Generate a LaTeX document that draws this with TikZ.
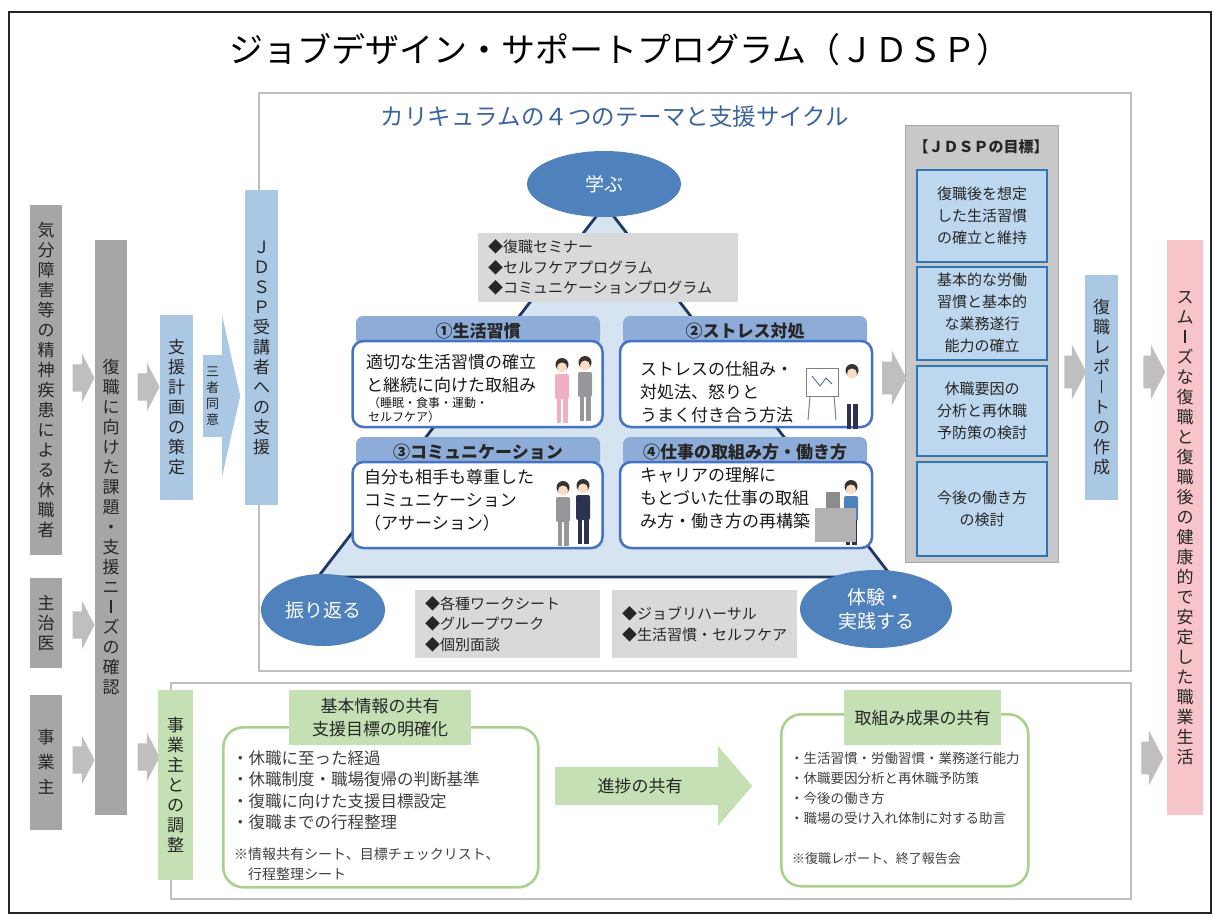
\documentclass[tikz,border=0pt]{standalone}
\usepackage{fontspec}
\usepackage{graphicx}
\setmainfont{Noto Sans CJK JP}
\usetikzlibrary{positioning,calc,shapes.geometric,shapes.arrows}
\definecolor{jgray}{RGB}{166,166,166}
\definecolor{jgarrow}{RGB}{191,191,191}
\definecolor{jblue}{RGB}{170,199,228}
\definecolor{jpink}{RGB}{247,196,202}
\definecolor{jcyc}{RGB}{79,129,189}
\definecolor{jhead}{RGB}{141,172,216}
\definecolor{jrim}{RGB}{68,114,196}
\definecolor{jtri}{RGB}{214,227,240}
\definecolor{jnavy}{RGB}{31,56,100}
\definecolor{jlist}{RGB}{217,217,217}
\definecolor{jgoalbg}{RGB}{200,200,200}
\definecolor{jgoal}{RGB}{189,215,238}
\definecolor{jgoalrim}{RGB}{46,117,182}
\definecolor{jgreen}{RGB}{197,224,180}
\definecolor{jgreenrim}{RGB}{169,209,142}
\definecolor{jframe}{RGB}{191,191,191}
\definecolor{jtitle}{RGB}{60,100,160}
\definecolor{jskin}{RGB}{250,222,196}
\definecolor{jhair}{RGB}{55,50,48}
\definecolor{jsuit}{RGB}{150,150,155}
\definecolor{jdark}{RGB}{45,50,80}
\definecolor{jrose}{RGB}{240,175,195}
\newcommand{\jfs}[2]{\fontsize{#1}{#2}\selectfont}
\makeatletter
\def\jd@bar{ー}
% characters stacked top to bottom, long vowel mark drawn upright
\newcommand{\tate}[2][3pt]{%
  \vbox{\offinterlineskip\@tfor\jd@c:=#2\do{%
    \hbox to 1em{\vrule height .88em depth .12em width 0pt\hss
      \ifx\jd@c\jd@bar\vrule height .78em depth -.02em width .09em\else\jd@c\fi\hss}%
    \kern#1}\kern-#1}}
\makeatother
% small clip-art figure: head centre x, y, shirt, trousers
\newcommand{\jperson}[4]{%
  \fill[jhair] (#1,#2-1.5) circle (6.5pt);
  \fill[jskin] (#1,#2+1.5) circle (5pt);
  \fill[#3, rounded corners=2pt] (#1-7,#2+8) rectangle (#1+7,#2+33);
  \fill[#4] (#1-5.5,#2+32) rectangle (#1-0.8,#2+57);
  \fill[#4] (#1+0.8,#2+32) rectangle (#1+5.5,#2+57);
}
\tikzset{
  frame/.style={draw=black!85, line width=1.3pt},
  ttl/.style={font=\jfs{34}{38}},
  panel/.style={draw=jframe, line width=2pt, inner sep=0pt},
  curttl/.style={font=\jfs{23.5}{26}, text=jtitle},
  tatebar/.style={inner sep=0pt, font=\jfs{17}{20}, text=black!85},
  gbar/.style={tatebar, fill=jgray},
  bbar/.style={tatebar, fill=jblue},
  pbar/.style={tatebar, fill=jpink},
  gnbar/.style={tatebar, fill=jgreen},
  garr/.style={single arrow, fill=jgarrow, inner xsep=0pt, inner ysep=13.5pt,
    minimum height=22pt, minimum width=48pt, single arrow head extend=10.5pt,
    single arrow tip angle=125},
  cyc/.style={ellipse, fill=jcyc, text=white, inner sep=0pt, font=\jfs{19}{24}, align=center},
  tri/.style={fill=jtri, draw=jnavy, line width=2.8pt, line join=round},
  lstbox/.style={fill=jlist, inner xsep=10pt, inner ysep=0pt, align=left,
    font=\jfs{15}{20.5}, text=black!85},
  thmhead/.style={fill=jhead, rounded corners=7pt, minimum width=244, minimum height=30,
    inner sep=0pt, font=\jfs{17}{20}\bfseries, text=black!85},
  thmbody/.style={draw=jrim, fill=white, line width=2.5pt, rounded corners=11pt,
    minimum width=250, minimum height=86, inner sep=0pt},
  thmtxt/.style={inner sep=0pt, align=left, font=\jfs{17}{23}, text=black!90},
  thmnote/.style={inner sep=0pt, align=left, font=\jfs{12}{14}, text=black!90},
  goalpan/.style={fill=jgoalbg, draw=black!35, line width=1pt, inner sep=0pt},
  goalbox/.style={fill=jgoal, draw=jgoalrim, line width=2pt, minimum width=130,
    inner sep=0pt, align=center, font=\jfs{15}{22}, text=black!85},
  grnhead/.style={fill=jgreen, inner sep=0pt, align=center, font=\jfs{17}{23}, text=black!85},
  grnbox/.style={draw=jgreenrim, line width=2.6pt, rounded corners=20pt, fill=white, inner sep=0pt},
  bultxt/.style={inner sep=0pt, align=left, text=black!75},
  grnarr/.style={single arrow, fill=jgreen, inner xsep=0pt, inner ysep=19pt,
    minimum height=197pt, minimum width=80pt, single arrow head extend=21pt,
    single arrow tip angle=99},
}

\begin{document}
\begin{tikzpicture}[x=1pt,y=-1pt]
\useasboundingbox (0,0) rectangle (1214,915);
\draw[frame] (9,12) rectangle (1211,913);
\node[ttl] (title) at (620,50) {ジョブデザイン・サポートプログラム（ＪＤＳＰ）};

% curriculum panel
\node[panel, minimum width=872, minimum height=578, anchor=north west] (cur) at (258,92) {};
\node[curttl] (curt) at (615,117) {カリキュラムの４つのテーマと支援サイクル};
\filldraw[tri] (605,205) -- (318,577) -- (892,577) -- cycle;

\node[cyc, minimum width=154, minimum height=66] (learn) at (604,184) {学ぶ};
\node[cyc, minimum width=124, minimum height=72] (review) at (323,610) {振り返る};
\node[cyc, minimum width=152, minimum height=78] (act) at (876,609) {体験・\\実践する};

\node[lstbox, minimum width=260, minimum height=69, text width=240, anchor=north west] (lst1) at (478,233)
  {◆復職セミナー\\◆セルフケアプログラム\\◆コミュニケーションプログラム};
\node[lstbox, minimum width=185, minimum height=68, text width=165, anchor=north west] (lst2) at (415,590)
  {◆各種ワークシート\\◆グループワーク\\◆個別面談};
\node[lstbox, minimum width=185, minimum height=68, text width=165, anchor=north west] (lst3) at (612,590)
  {◆ジョブリハーサル\\◆生活習慣・セルフケア};

% four themes
\node[thmhead] (h1) at (478,331) {①生活習慣};
\node[thmhead] (h2) at (745,331) {②ストレス対処};
\node[thmhead] (h3) at (478,452) {③コミュニケーション};
\node[thmhead] (h4) at (745,452) {④仕事の取組み方・働き方};
\node[thmbody] (b1) at (477.5,384) {};
\node[thmbody, minimum width=252] (b2) at (746,384) {};
\node[thmbody] (b3) at (477.5,505) {};
\node[thmbody, minimum width=252] (b4) at (746,505) {};

\node[thmtxt, anchor=north west] (t1) at (366,354) {適切な生活習慣の確立\\と継続に向けた取組み};
\node[thmnote, anchor=north west] (n1) at (368,397) {（睡眠・食事・運動・\\セルフケア）};
\node[thmtxt, anchor=north west] (t2) at (640,361) {ストレスの仕組み・\\対処法、怒りと\\うまく付き合う方法};
\node[thmtxt, anchor=north west] (t3) at (364,469) {自分も相手も尊重した\\コミュニケーション\\（アサーション）};
\node[thmtxt, anchor=north west] (t4) at (640,467) {キャリアの理解に\\もとづいた仕事の取組\\み方・働き方の再構築};

% clip-art figures
\jperson{562}{366}{jrose}{jrose}
\jperson{585}{364}{jsuit}{jsuit}
\draw[black!50, line width=1pt, fill=white] (806,368) rectangle (838,396);
\draw[jtitle, line width=.8pt] (812,376) -- (820,386) -- (826,378) -- (832,384);
\draw[black!50, line width=1pt] (810,396) -- (808,420) (834,396) -- (836,420);
\jperson{852}{372}{white}{jdark}
\jperson{563}{489}{jsuit}{jsuit}
\jperson{583}{487}{jdark}{jdark}
\jperson{851}{488}{jcyc}{jdark}
\fill[black!45] (826,492) rectangle (840,508);
\fill[black!30] (815,508) rectangle (856,542);

% goals
\node[goalpan, minimum width=153, minimum height=437, anchor=north west] (aims) at (905,125) {};
\node[font=\jfs{15}{18}\bfseries, text=black!85] (aimst) at (981,147) {【ＪＤＳＰの目標】};
\node[goalbox, minimum height=92] (aim1) at (982,216) {復職後を想定\\した生活習慣\\の確立と維持};
\node[goalbox, minimum height=93] (aim2) at (982,313) {基本的な労働\\習慣と基本的\\な業務遂行\\能力の確立};
\node[goalbox, minimum height=90] (aim3) at (982,411) {休職要因の\\分析と再休職\\予防策の検討};
\node[goalbox, minimum height=94] (aim4) at (982,509) {今後の働き方\\の検討};

% left flow
\node[gbar, minimum width=32, minimum height=350] (patient) at (46,380) {\tate{気分障害等の精神疾患による休職者}};
\node[gbar, minimum width=32, minimum height=90] (doctor) at (46,623) {\tate{主治医}};
\node[gbar, minimum width=32, minimum height=135] (employer) at (46,762) {\tate[8pt]{事業主}};
\node[gbar, minimum width=32, minimum height=575] (needs) at (111,527) {\tate{復職に向けた課題・支援ニーズの確認}};
\node[bbar, minimum width=33, minimum height=185] (plan) at (176.5,407) {\tate{支援計画の策定}};
\node[bbar, minimum width=19, minimum height=82, font=\jfs{13}{16}] (agree) at (212.5,396) {\tate{三者同意}};
\fill[jblue] ($(agree.east)+(0,-80)$) -- ($(agree.east)+(18,0)$) -- ($(agree.east)+(0,80)$) -- cycle;
\node[bbar, minimum width=33, minimum height=315] (jdsp) at (261.5,347) {\tate{ＪＤＳＰ受講者への支援}};

\node[garr] (a1) at (80,378) {};
\node[garr] (a2) at (80,625) {};
\node[garr] (a3) at (80,760) {};
\node[garr] (a4) at (145,387) {};
\node[garr] (a5) at (145,757) {};

% right flow
\node[garr, minimum width=55pt, minimum height=24pt, inner ysep=15pt] (a6) at (890,378) {};
\node[bbar, minimum width=33, minimum height=225] (report) at (1101.5,387) {\tate{復職レポートの作成}};
\node[garr, minimum width=55pt, inner ysep=15pt] (a7) at (1071,372) {};
\node[pbar, minimum width=36, minimum height=575] (life) at (1185,527) {\tate{スムーズな復職と復職後の健康的で安定した職業生活}};
\node[garr, minimum width=55pt, inner ysep=15pt] (a8) at (1150,372) {};
\node[garr, minimum width=55pt, inner ysep=15pt] (a9) at (1148,758) {};

% coordination with the employer
\node[panel, minimum width=960, minimum height=216, anchor=north west] (coord) at (170,682) {};
\node[gnbar, minimum width=35, minimum height=190] (adjust) at (175.5,785) {\tate{事業主との調整}};
\node[grnbox, minimum width=315, minimum height=160, anchor=north west] (infobox) at (222,726) {};
\node[grnhead, minimum width=182, minimum height=55, anchor=north west] (infohd) at (289,690) {基本情報の共有\\支援目標の明確化};
\node[bultxt, font=\jfs{16.5}{21.5}, anchor=north west] (infolist) at (232,750)
  {・休職に至った経過\\・休職制度・職場復帰の判断基準\\・復職に向けた支援目標設定\\・復職までの行程整理};
\node[bultxt, font=\jfs{14}{20}, anchor=north west] (infonote) at (234,848)
  {※情報共有シート、目標チェックリスト、\\\hspace*{1em}行程整理シート};

\node[grnarr, anchor=tail] (progress) at (555,786) {};
\node[font=\jfs{17}{20}, text=black!85] (progt) at (640,786) {進捗の共有};

\node[grnbox, minimum width=247, minimum height=172, anchor=north west] (resbox) at (780,713) {};
\node[grnhead, minimum width=157, minimum height=55, anchor=north west] (reshd) at (844,690) {取組み成果の共有};
\node[bultxt, font=\jfs{13.5}{20}, anchor=north west] (reslist) at (790,752)
  {・生活習慣・労働習慣・業務遂行能力\\・休職要因分析と再休職予防策\\・今後の働き方\\・職場の受け入れ体制に対する助言};
\node[bultxt, font=\jfs{13}{16}, anchor=north west] (resnote) at (792,852) {※復職レポート、終了報告会};
\end{tikzpicture}
\end{document}
